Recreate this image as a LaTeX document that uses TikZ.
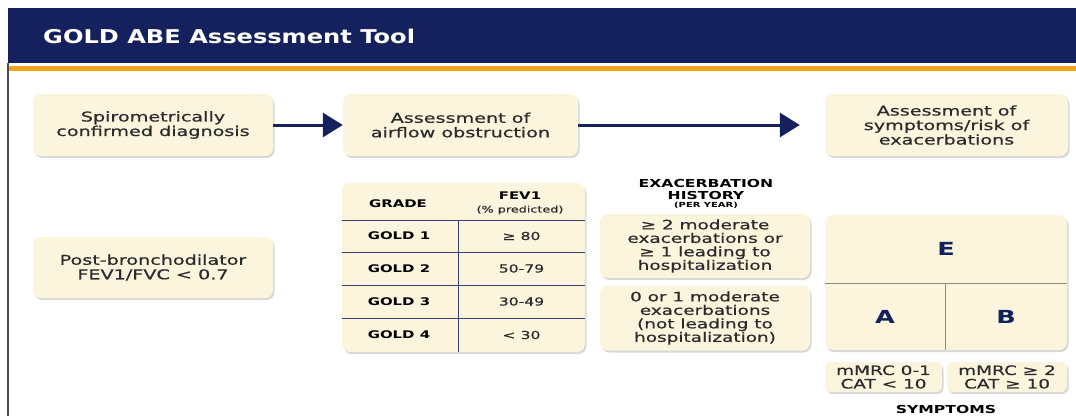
\documentclass[tikz,border=0pt]{standalone}
\usepackage{fontspec}
\setmainfont[FakeStretch=1.42, UprightFeatures={FakeBold=0.6}]{DejaVu Sans}
\newfontfamily\titlef[FakeStretch=1.27]{DejaVu Sans}
\usetikzlibrary{arrows.meta,shadows}
\definecolor{navy}{HTML}{14215C}
\definecolor{cream}{HTML}{FAF5DC}
\definecolor{orangeline}{HTML}{F2A51A}
\definecolor{txt}{HTML}{2B2B2B}
\definecolor{divgray}{HTML}{8A8A80}
\begin{document}
\begin{tikzpicture}[x=1pt,y=-1pt,
  box/.style={fill=cream, rounded corners=8pt,
    drop shadow={shadow xshift=1.5pt,shadow yshift=-2pt,opacity=0.25,fill=black!60},
    text=txt, align=center, inner sep=0pt,
    font=\fontsize{13.5}{14.5}\selectfont},
  smallbox/.style={box, font=\fontsize{13}{13.5}\selectfont},
  arr/.style={draw=navy, line width=3pt, -{Triangle[length=20pt,width=24pt]}},
  tbltxt/.style={text=black, font=\bfseries\fontsize{10.5}{12}\selectfont},
  tblval/.style={text=txt, font=\fontsize{11}{12}\selectfont},
  grade/.style={text=navy, font=\bfseries\fontsize{18}{18}\selectfont},
  head/.style={text=black, font=\bfseries\fontsize{11}{12}\selectfont},
  tline/.style={draw=navy!85, line width=0.9pt},
  gline/.style={draw=divgray, line width=1pt}]
\useasboundingbox (0,0) rectangle (1076,416);
\fill[white] (0,0) rectangle (1076,416);
% header
\fill[navy] (8,8) rectangle (1076,63);
\fill[orangeline] (8,66) rectangle (1076,71);
\draw[black!70, line width=2pt] (8,63) -- (8,416);
\node[anchor=base west, text=white, font=\titlef\bfseries\fontsize{19}{19}\selectfont, inner sep=0pt] (title) at (43,43) {GOLD ABE Assessment Tool};
% top row
\node[box, minimum width=240pt, minimum height=62pt] (spiro) at (153,125) {Spirometrically\\confirmed diagnosis};
\node[box, minimum width=235pt, minimum height=62pt] (airflow) at (460.5,125) {Assessment of\\airflow obstruction};
\node[box, minimum width=243pt, minimum height=62pt] (symp) at (946.5,125) {Assessment of\\symptoms/risk of\\exacerbations};
\draw[arr] (spiro) -- (airflow);
\draw[arr, shorten >=25pt] (airflow) -- (symp);
% post-bronchodilator
\node[box, minimum width=240pt, minimum height=61pt] (post) at (153,267.5) {Post-bronchodilator\\FEV1/FVC < 0.7};
% table
\node[box, minimum width=243pt, minimum height=169pt] (tbl) at (463.5,267.5) {};
\draw[tline] (342,220) -- (585,220);
\draw[tline] (342,252) -- (585,252);
\draw[tline] (342,285) -- (585,285);
\draw[tline] (342,318) -- (585,318);
\draw[tline] (458,220) -- (458,352);
\node[tbltxt] (grade) at (398,204) {GRADE};
\node[tbltxt] (fev) at (520,196) {FEV1};
\node[text=txt, font=\fontsize{9}{10}\selectfont] (pred) at (520,210) {(\% predicted)};
\node[tbltxt] (g1) at (399,236) {GOLD 1};
\node[tbltxt] (g2) at (399,268.5) {GOLD 2};
\node[tbltxt] (g3) at (399,301.5) {GOLD 3};
\node[tbltxt] (g4) at (399,335) {GOLD 4};
\node[tblval] (v1) at (521.5,236) {≥ 80};
\node[tblval] (v2) at (521.5,268.5) {50-79};
\node[tblval] (v3) at (521.5,301.5) {30-49};
\node[tblval] (v4) at (521.5,335) {< 30};
% exacerbation history
\node[head] (exh1) at (706,183) {EXACERBATION};
\node[head] (exh2) at (706,195) {HISTORY};
\node[text=black, font=\bfseries\fontsize{7}{8}\selectfont] (exh3) at (706,205) {(PER YEAR)};
\node[smallbox, minimum width=210pt, minimum height=64pt] (ex1) at (705,246) {≥ 2 moderate\\exacerbations or\\≥ 1 leading to\\hospitalization};
\node[smallbox, minimum width=210pt, minimum height=65pt] (ex2) at (705,318) {0 or 1 moderate\\exacerbations\\(not leading to\\hospitalization)};
% ABE grid
\node[box, minimum width=242pt, minimum height=135pt] (grid) at (946,282.5) {};
\draw[gline] (825,283) -- (1067,283);
\draw[gline] (945,283) -- (945,350);
\node[grade] (E) at (946,249) {E};
\node[grade] (A) at (885,316.5) {A};
\node[grade] (B) at (1006,316.5) {B};
\node[smallbox, minimum width=117pt, minimum height=30pt, rounded corners=6pt] (m1) at (883.5,377) {mMRC 0-1\\CAT < 10};
\node[smallbox, minimum width=120pt, minimum height=30pt, rounded corners=6pt] (m2) at (1007,377) {mMRC ≥ 2\\CAT ≥ 10};
\node[head] (symlab) at (946,409.5) {SYMPTOMS};
\end{tikzpicture}
\end{document}
